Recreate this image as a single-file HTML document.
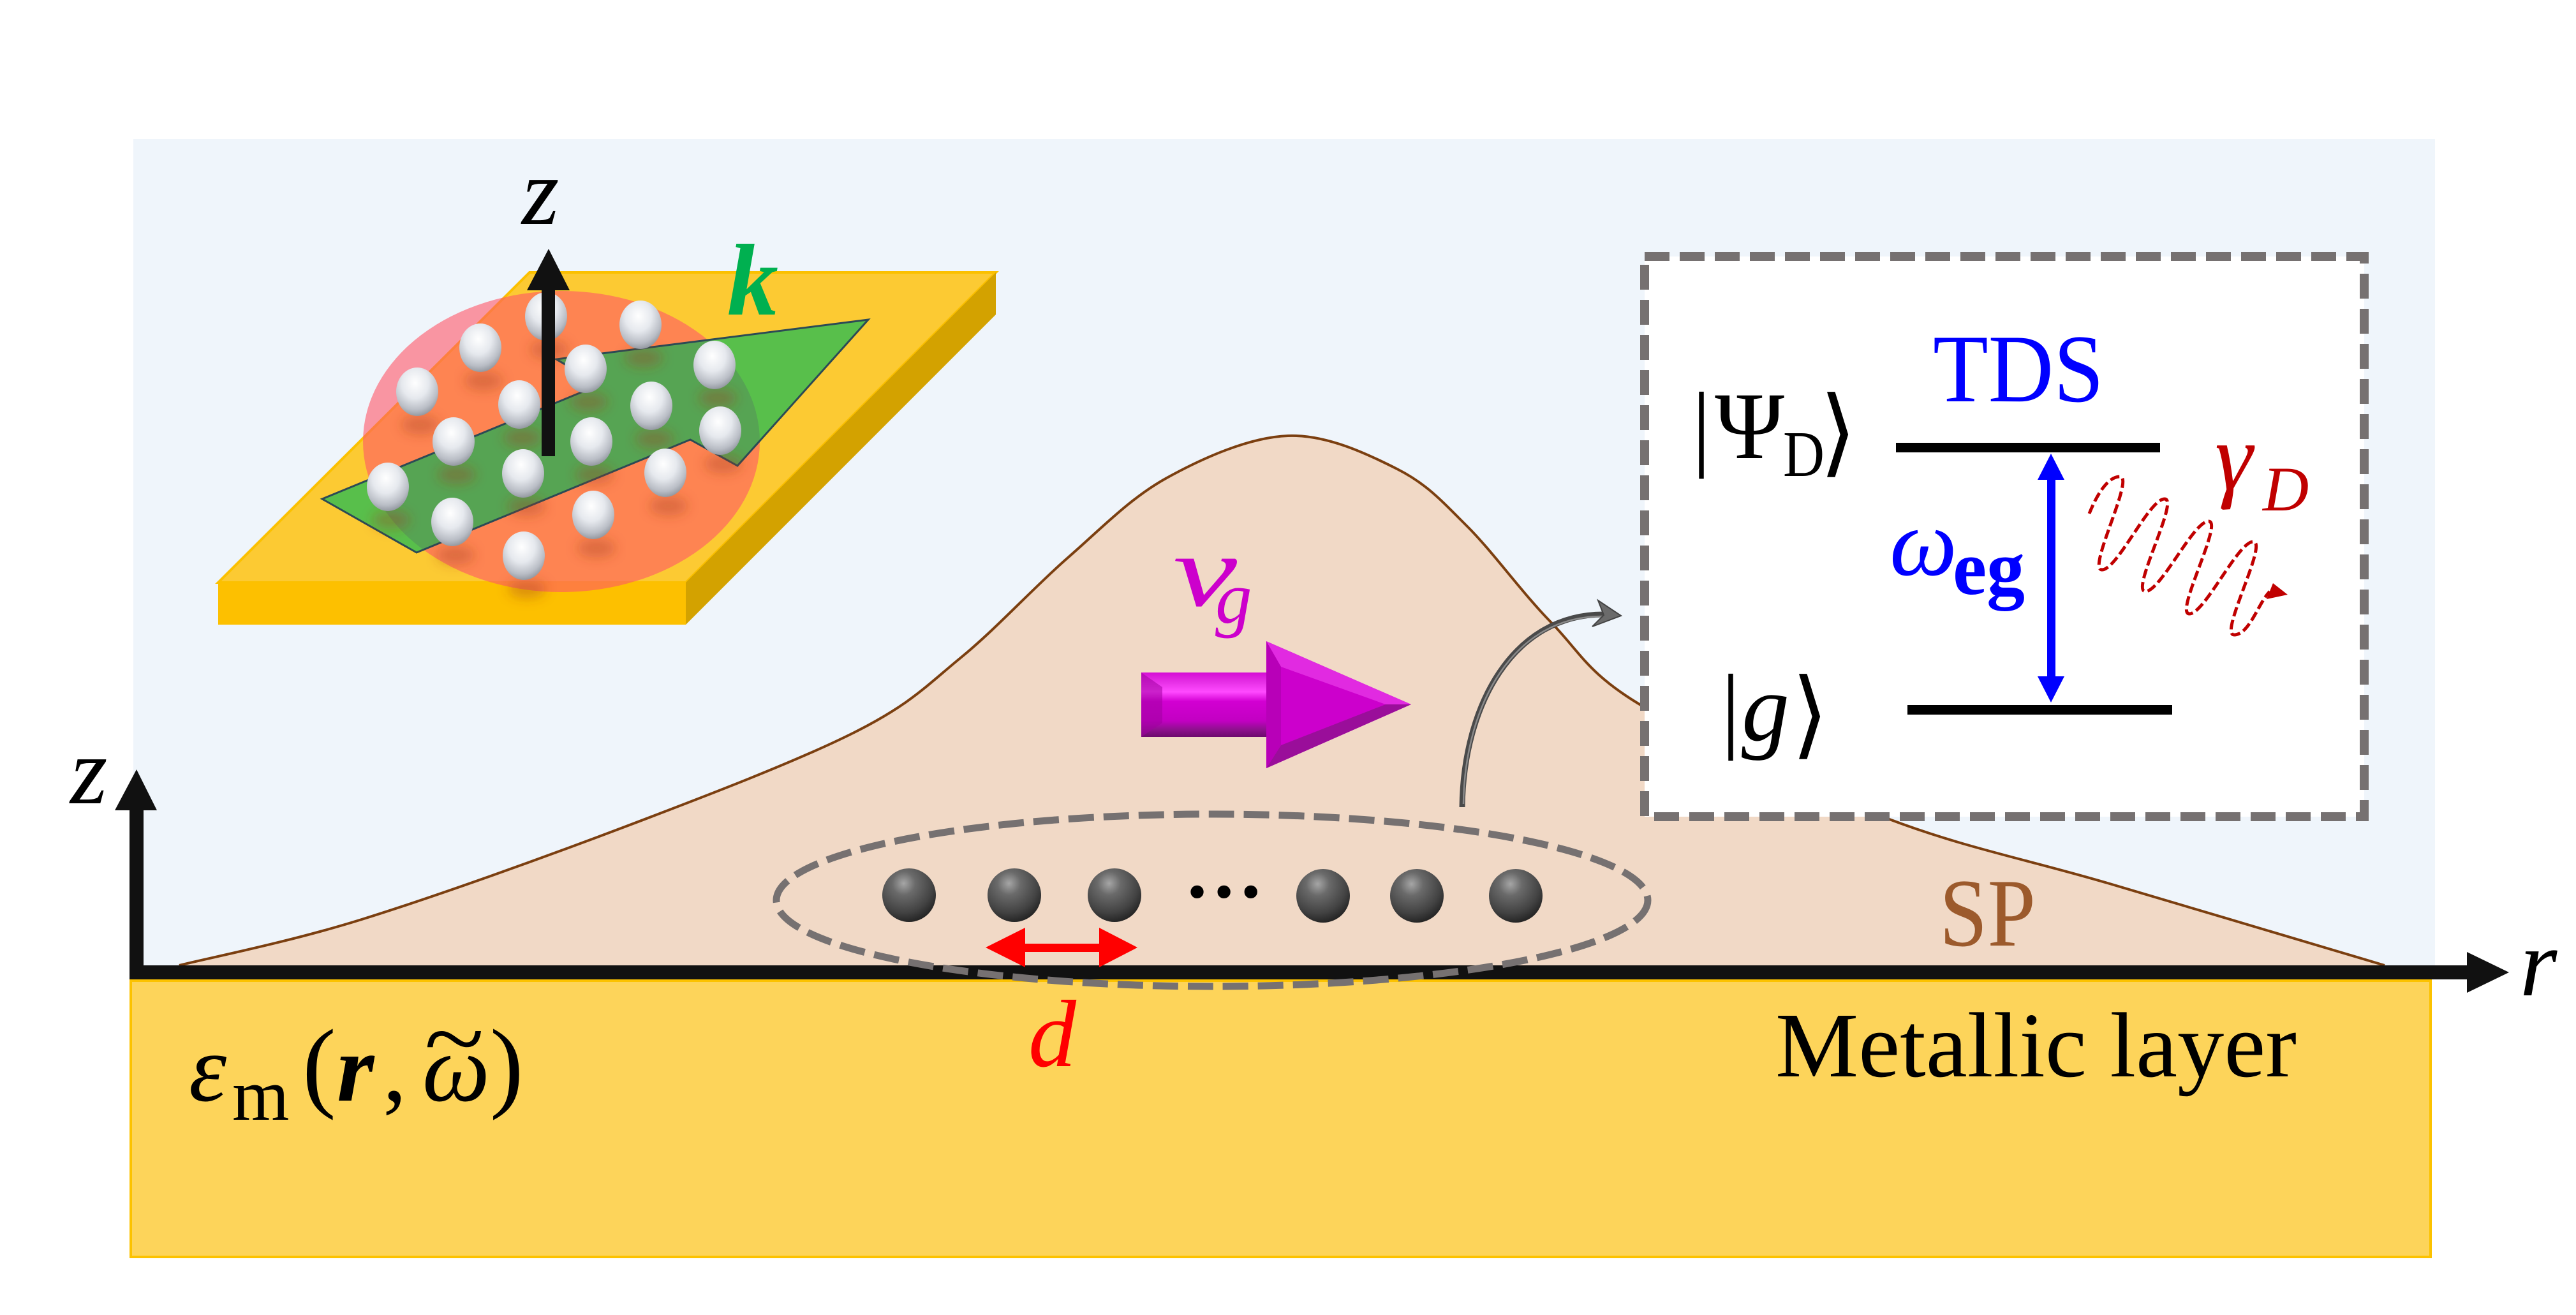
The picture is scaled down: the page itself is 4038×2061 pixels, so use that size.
<!DOCTYPE html>
<html>
<head>
<meta charset="utf-8">
<style>
  html, body { margin: 0; padding: 0; background: #ffffff; }
  svg { display: block; }
  .t { font-family: "Liberation Serif", serif; }
  .dj { font-family: "DejaVu Sans", "DejaVu Serif", serif; }
</style>
</head>
<body>
<svg xmlns="http://www.w3.org/2000/svg" width="4038" height="2061" viewBox="0 0 4038 2061" font-family="Liberation Serif, serif">
  <defs>
    <radialGradient id="wsph" cx="45%" cy="32%" r="70%">
      <stop offset="0" stop-color="#ffffff"/>
      <stop offset="0.45" stop-color="#e6e9ee"/>
      <stop offset="0.8" stop-color="#b9bdc5"/>
      <stop offset="1" stop-color="#8f949c"/>
    </radialGradient>
    <radialGradient id="dsph" cx="40%" cy="28%" r="72%">
      <stop offset="0" stop-color="#a6a6a6"/>
      <stop offset="0.3" stop-color="#6a6a6a"/>
      <stop offset="0.75" stop-color="#434343"/>
      <stop offset="1" stop-color="#262626"/>
    </radialGradient>
    <linearGradient id="magShaft" gradientUnits="userSpaceOnUse" x1="0" y1="1054" x2="0" y2="1155">
      <stop offset="0" stop-color="#d40ed4"/>
      <stop offset="0.15" stop-color="#e630e6"/>
      <stop offset="0.3" stop-color="#ff4aff"/>
      <stop offset="0.45" stop-color="#d200d2"/>
      <stop offset="0.75" stop-color="#c200c2"/>
      <stop offset="0.88" stop-color="#901090"/>
      <stop offset="1" stop-color="#6c0a6c"/>
    </linearGradient>
    <clipPath id="ellClip">
      <ellipse cx="880" cy="692" rx="311" ry="236"/>
    </clipPath>
    <filter id="blur" x="-50%" y="-50%" width="200%" height="200%">
      <feGaussianBlur stdDeviation="9"/>
    </filter>
  </defs>

  <!-- light blue background -->
  <rect x="209" y="218" width="3608" height="1306" fill="#eff5fb"/>

  <!-- SP curve fill -->
  <path d="M281,1513 C328.7,1501 450.7,1477.2 567,1441 C683.3,1404.8 850.3,1344.8 979,1296 C1107.7,1247.2 1251,1192.3 1339,1148 C1427,1103.7 1451.2,1075.7 1507,1030 C1562.8,984.3 1620.3,920.8 1674,874 C1727.7,827.2 1771.5,780.8 1829,749 C1886.5,717.2 1958.8,685.3 2019,683 C2079.2,680.7 2143.2,711.3 2190,735 C2236.8,758.7 2259.8,785 2300,825 C2340.2,865 2384.8,927.8 2431,975 C2477.2,1022.2 2489,1056.7 2577,1108 C2665,1159.3 2837.3,1236.8 2959,1283 C3080.7,1329.2 3177.2,1346.7 3307,1385 C3436.8,1423.3 3666.2,1491.7 3738,1513 L3738,1524 L281,1524 Z" fill="#f1d9c6"/>
  <path d="M281,1513 C328.7,1501 450.7,1477.2 567,1441 C683.3,1404.8 850.3,1344.8 979,1296 C1107.7,1247.2 1251,1192.3 1339,1148 C1427,1103.7 1451.2,1075.7 1507,1030 C1562.8,984.3 1620.3,920.8 1674,874 C1727.7,827.2 1771.5,780.8 1829,749 C1886.5,717.2 1958.8,685.3 2019,683 C2079.2,680.7 2143.2,711.3 2190,735 C2236.8,758.7 2259.8,785 2300,825 C2340.2,865 2384.8,927.8 2431,975 C2477.2,1022.2 2489,1056.7 2577,1108 C2665,1159.3 2837.3,1236.8 2959,1283 C3080.7,1329.2 3177.2,1346.7 3307,1385 C3436.8,1423.3 3666.2,1491.7 3738,1513" fill="none" stroke="#7b3f10" stroke-width="4"/>

  <!-- dashed box -->
  <rect x="2578" y="402" width="1128" height="878" fill="#ffffff" stroke="#767171" stroke-width="14" stroke-dasharray="39 16"/>

  <!-- plate -->
  <polygon points="830,427 1561,427 1075,913 342,913" fill="#fcca33" stroke="#fbc000" stroke-width="4"/>
  <polygon points="342,913 1075,913 1075,979 342,979" fill="#fdc000"/>
  <polygon points="1075,913 1561,427 1561,493 1075,979" fill="#d3a200"/>

  <!-- orange ellipse -->
  <ellipse cx="880" cy="692" rx="311" ry="236" fill="rgb(255,85,104)" fill-opacity="0.6"/>

  <!-- green arrow -->
  <polygon points="505,782 940,603 872,563 1361,501 1156,730 1082,689 653,866" fill="#58bf4b"/>
  <polygon points="505,782 940,603 872,563 1361,501 1156,730 1082,689 653,866" fill="#56a453" clip-path="url(#ellClip)"/>
  <polygon points="505,782 940,603 872,563 1361,501 1156,730 1082,689 653,866" fill="none" stroke="#2c4a55" stroke-width="3"/>

  <!-- sphere shadows -->
  <g filter="url(#blur)" fill="#a03c18" fill-opacity="0.35">
    <ellipse cx="861" cy="548" rx="30" ry="15"/>
    <ellipse cx="1009" cy="561" rx="30" ry="15"/>
    <ellipse cx="758" cy="597" rx="30" ry="15"/>
    <ellipse cx="923" cy="630" rx="30" ry="15"/>
    <ellipse cx="1125" cy="624" rx="30" ry="15"/>
    <ellipse cx="659" cy="666" rx="30" ry="15"/>
    <ellipse cx="819" cy="686" rx="30" ry="15"/>
    <ellipse cx="1026" cy="688" rx="30" ry="15"/>
    <ellipse cx="716" cy="744" rx="30" ry="15"/>
    <ellipse cx="932" cy="744" rx="30" ry="15"/>
    <ellipse cx="1134" cy="727" rx="30" ry="15"/>
    <ellipse cx="613" cy="815" rx="30" ry="15"/>
    <ellipse cx="825" cy="794" rx="30" ry="15"/>
    <ellipse cx="1048" cy="793" rx="30" ry="15"/>
    <ellipse cx="714" cy="870" rx="30" ry="15"/>
    <ellipse cx="935" cy="859" rx="30" ry="15"/>
    <ellipse cx="826" cy="923" rx="30" ry="15"/>
  </g>

  <!-- white spheres -->
  <g fill="url(#wsph)">
    <ellipse cx="856" cy="496" rx="33" ry="38"/>
    <ellipse cx="1004" cy="509" rx="33" ry="38"/>
    <ellipse cx="753" cy="545" rx="33" ry="38"/>
    <ellipse cx="918" cy="578" rx="33" ry="38"/>
    <ellipse cx="1120" cy="572" rx="33" ry="38"/>
    <ellipse cx="654" cy="614" rx="33" ry="38"/>
    <ellipse cx="814" cy="634" rx="33" ry="38"/>
    <ellipse cx="1021" cy="636" rx="33" ry="38"/>
    <ellipse cx="711" cy="692" rx="33" ry="38"/>
    <ellipse cx="927" cy="692" rx="33" ry="38"/>
    <ellipse cx="1129" cy="675" rx="33" ry="38"/>
    <ellipse cx="608" cy="763" rx="33" ry="38"/>
    <ellipse cx="820" cy="742" rx="33" ry="38"/>
    <ellipse cx="1043" cy="741" rx="33" ry="38"/>
    <ellipse cx="709" cy="818" rx="33" ry="38"/>
    <ellipse cx="930" cy="807" rx="33" ry="38"/>
    <ellipse cx="821" cy="871" rx="33" ry="38"/>
  </g>

  <!-- z arrow on plate -->
  <rect x="849" y="450" width="21" height="265" fill="#111111"/>
  <polygon points="826,455 893,455 860,390" fill="#111111"/>
  <text class="t" x="818" y="351" font-size="150" font-style="italic" fill="#000">z</text>
  <text class="t" x="1140" y="493" font-size="160" font-style="italic" font-weight="bold" fill="#00b050">k</text>

  <!-- magenta arrow -->
  <rect x="1789" y="1054" width="200" height="101" fill="url(#magShaft)"/>
  <polygon points="1789,1054 1822,1077 1822,1133 1789,1155" fill="#a000a0" fill-opacity="0.55"/>
  <polygon points="1985,1005 2212,1104 1985,1204" fill="#cc00cc"/>
  <polygon points="1985,1005 2212,1104 2172,1104 2008,1045" fill="#e12ae1"/>
  <polygon points="1985,1204 2212,1104 2172,1104 2008,1168" fill="#9a0e9a"/>
  <polygon points="1985,1005 2008,1045 2008,1168 1985,1204" fill="#b800b8"/>
  <text class="t" x="1839" y="949" font-size="160" font-style="italic" fill="#cc00cc" textLength="100" lengthAdjust="spacingAndGlyphs">v</text>
  <text class="t" x="1905" y="976" font-size="115" font-style="italic" fill="#cc00cc">g</text>

  <!-- gray curved arrow -->
  <path d="M2292,1265 C2294,1105 2372,962 2515,963" fill="none" stroke="#4a4a4a" stroke-width="9"/>
  <path d="M2294,1260 C2296,1105 2372,965 2512,966" fill="none" stroke="#8a8a8a" stroke-width="2.5"/>
  <polygon points="2541,965 2505,941 2514,964 2496,982" fill="#6b6b6b" stroke="#444" stroke-width="2"/>

  <!-- box content -->
  <text class="t" x="2652" y="718" font-size="150" fill="#000">|</text>
  <text class="t" x="2688" y="718" font-size="150" fill="#000" textLength="109" lengthAdjust="spacingAndGlyphs">Ψ</text>
  <text class="t" x="2795" y="746" font-size="102" fill="#000" textLength="65" lengthAdjust="spacingAndGlyphs">D</text>
  <text class="dj" x="2852" y="728" font-size="150" fill="#000">⟩</text>

  <text class="t" x="3030" y="629" font-size="152" fill="#0000ff" textLength="268" lengthAdjust="spacingAndGlyphs">TDS</text>

  <rect x="2972" y="694" width="414" height="15" fill="#000"/>
  <rect x="2990" y="1105" width="415" height="15" fill="#000"/>

  <rect x="3209" y="748" width="13" height="316" fill="#0000ff"/>
  <polygon points="3215,711 3194,752 3236,752" fill="#0000ff"/>
  <polygon points="3215,1101 3194,1060 3236,1060" fill="#0000ff"/>

  <text class="t" x="2962" y="901" font-size="150" font-style="italic" fill="#0000ff">ω</text>
  <text class="t" x="3061" y="931" font-size="122" font-weight="bold" fill="#0000ff" textLength="113" lengthAdjust="spacingAndGlyphs">eg</text>

  <text class="t" x="2698" y="1160" font-size="150" fill="#000">|</text>
  <text class="t" x="2730" y="1160" font-size="150" font-style="italic" fill="#000">g</text>
  <text class="dj" x="2808" y="1170" font-size="150" fill="#000">⟩</text>

  <text class="t" x="3472" y="767" font-size="150" font-style="italic" fill="#c00000">γ</text>
  <text class="t" x="3547" y="800" font-size="100" font-style="italic" fill="#c00000">D</text>

  <!-- coil (rounded zigzag loops) -->
  <path d="M3275,805 C3283,785 3301,747 3323,747 C3347,747 3271,893 3295,893 C3319,893 3369,782 3393,782 C3417,782 3339,927 3363,927 C3387,927 3438,817 3462,817 C3486,817 3408,962 3432,962 C3456,962 3508,849 3532,849 C3556,849 3478,995 3502,995 C3526,995 3540,945 3558,927" fill="none" stroke="#c00000" stroke-width="5" stroke-dasharray="15 6"/>
  <polygon points="3563,914 3586,932 3553,939" fill="#c00000"/>

  <!-- metallic layer -->
  <rect x="205" y="1537" width="3605" height="433" fill="#fdd45a" stroke="#fcc200" stroke-width="4"/>

  <!-- axes -->
  <rect x="203" y="1513" width="3668" height="22" fill="#111111"/>
  <polygon points="3867,1492 3933,1524 3867,1556" fill="#111111"/>
  <rect x="203" y="1266" width="22" height="269" fill="#111111"/>
  <polygon points="180,1270 246,1270 214,1206" fill="#111111"/>
  <text class="t" x="110" y="1259" font-size="150" font-style="italic" fill="#000">z</text>
  <text class="t" x="3950" y="1560" font-size="150" font-style="italic" fill="#000">r</text>

  <!-- dashed ellipse -->
  <ellipse cx="1900" cy="1411" rx="683" ry="135" fill="none" stroke="#767171" stroke-width="11" stroke-dasharray="40 15"/>

  <!-- dark spheres -->
  <g fill="url(#dsph)">
    <circle cx="1425" cy="1403" r="42"/>
    <circle cx="1590" cy="1403" r="42"/>
    <circle cx="1747" cy="1403" r="42"/>
    <circle cx="2074" cy="1404" r="42"/>
    <circle cx="2221" cy="1404" r="42"/>
    <circle cx="2376" cy="1404" r="42"/>
  </g>
  <text class="t" x="1856" y="1406" font-size="125" font-weight="bold" fill="#000">…</text>

  <!-- d double arrow -->
  <rect x="1600" y="1479" width="130" height="13" fill="#ff0000"/>
  <polygon points="1545,1485 1607,1454 1607,1516" fill="#ff0000"/>
  <polygon points="1783,1485 1723,1454 1723,1516" fill="#ff0000"/>
  <text class="t" x="1612" y="1671" font-size="150" font-style="italic" fill="#ff0000">d</text>

  <!-- epsilon label -->
  <text class="t" x="296" y="1725" font-size="150" font-style="italic" fill="#000">ε</text>
  <text class="t" x="364" y="1755" font-size="115" fill="#000">m</text>
  <text class="t" x="474" y="1722" font-size="158" fill="#000">(</text>
  <text class="t" x="528" y="1725" font-size="150" font-style="italic" font-weight="bold" fill="#000">r</text>
  <text class="t" x="600" y="1725" font-size="150" fill="#000">,</text>
  <text class="t" x="662" y="1725" font-size="150" font-style="italic" fill="#000">ω</text>
  <text class="t" x="665" y="1678" font-size="150" fill="#000" textLength="94" lengthAdjust="spacingAndGlyphs">~</text>
  <text class="t" x="768" y="1722" font-size="158" fill="#000">)</text>

  <text class="t" x="3040" y="1482" font-size="152" fill="#9c5a2c" textLength="151" lengthAdjust="spacingAndGlyphs">SP</text>
  <text class="t" x="2783" y="1687" font-size="145" fill="#000" textLength="817" lengthAdjust="spacingAndGlyphs">Metallic layer</text>
</svg>
</body>
</html>
